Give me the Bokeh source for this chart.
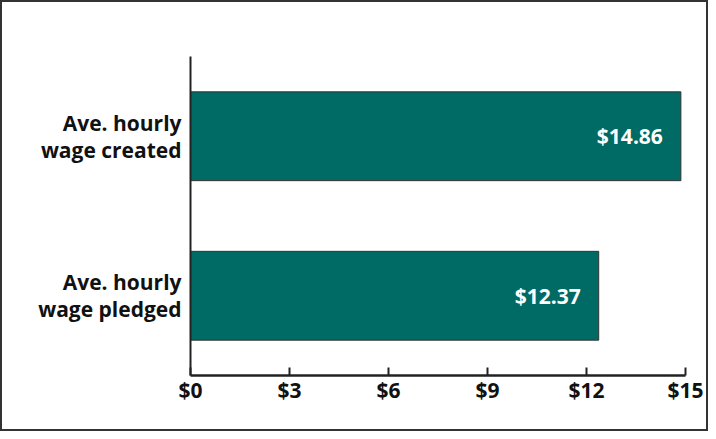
from bokeh.plotting import figure
from bokeh.models import ColumnDataSource, FixedTicker, Range1d
from bokeh.core.properties import value
from bokeh.embed import file_html
from bokeh.resources import INLINE

categories = ["Ave. hourly\nwage pledged", "Ave. hourly\nwage created"]
wages = [12.37, 14.86]
value_labels = ["$12.37", "$14.86"]
tick_values = [0, 3, 6, 9, 12, 15]
tick_labels = ["$0", "$3", "$6", "$9", "$12", "$15"]

FONT = "Open Sans"

src = ColumnDataSource(dict(cat=categories, w=wages, lab=value_labels))

p = figure(width=708, height=431, y_range=categories, x_range=Range1d(0, 15),
           output_backend="svg", toolbar_location=None,
           min_border_left=188, min_border_right=25, min_border_top=54, min_border_bottom=58)
p.styles = {"border": "2px solid #333333"}
p.outline_line_color = None
p.grid.visible = False

p.hbar(y="cat", right="w", left=0, height=0.557, source=src,
       fill_color="#006B64", line_color="#333333", line_width=1)

p.text(x="w", y="cat", text="lab", source=src, x_offset=-18,
       text_align="right", text_baseline="middle", text_color="white",
       text_font=value(FONT), text_font_style="bold", text_font_size="21px")

xa = p.xaxis[0]
xa.ticker = FixedTicker(ticks=tick_values)
xa.major_label_overrides = {v: l for v, l in zip(tick_values, tick_labels)}
xa.major_tick_in = 8
xa.major_tick_out = 0
xa.minor_tick_line_color = None
xa.axis_line_width = 2.5
xa.axis_line_color = "#222222"
xa.major_tick_line_color = "#222222"
xa.major_tick_line_width = 2
xa.major_label_text_font = FONT
xa.major_label_text_font_style = "bold"
xa.major_label_text_font_size = "21px"
xa.major_label_text_color = "#111111"
xa.major_label_standoff = 0

ya = p.yaxis[0]
ya.major_tick_line_color = None
ya.minor_tick_line_color = None
ya.axis_line_width = 2
ya.axis_line_color = "#222222"
ya.major_label_text_font = FONT
ya.major_label_text_font_style = "bold"
ya.major_label_text_font_size = "21px"
ya.major_label_text_color = "#111111"
ya.major_label_text_align = "right"
ya.major_label_standoff = 3
ya.major_label_text_line_height = 0.95

open("out.html", "w").write(file_html(p, INLINE))
